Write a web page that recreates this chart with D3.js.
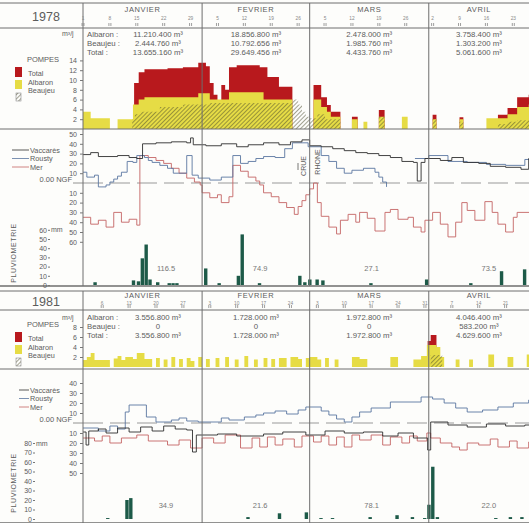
<!DOCTYPE html>
<html>
<head>
<meta charset="utf-8">
<script src="https://cdn.jsdelivr.net/npm/d3@7"></script>
<style>
  body { margin: 0; background: #fff; }
  svg { display: block; font-family: "Liberation Sans", Arial, sans-serif; }
</style>
</head>
<body>
<svg id="chart" width="529" height="523"></svg>
<script>
// ---- data ----
const years = ["1978", "1981"];
const months = ["JANVIER", "FEVRIER", "MARS", "AVRIL"];
const monthStart = [0, 31, 59, 90, 120];   // day index of each month start

const dayTicks78 = [[1, 8, 15, 22, 29], [5, 12, 19, 26], [5, 12, 19, 26], [2, 9, 16, 23]];
const dayTicks81 = [[6, 13, 20, 27], [3, 10, 17, 24], [3, 10, 17, 24, 31], [7, 14, 21, 28]];

// monthly pumped volumes (text)
const albaron78 = ["11.210.400 m³", "18.856.800 m³", "2.478.000 m³", "3.758.400 m³"];
const beaujeu78 = ["2.444.760 m³", "10.792.656 m³", "1.985.760 m³", "1.303.200 m³"];
const total78   = ["13.655.160 m³", "29.649.456 m³", "4.433.760 m³", "5.061.600 m³"];
const albaron81 = ["3.556.800 m³", "1.728.000 m³", "1.972.800 m³", "4.046.400 m³"];
const beaujeu81 = ["0", "0", "0", "583.200 m³"];
const total81   = ["3.556.800 m³", "1.728.000 m³", "1.972.800 m³", "4.629.600 m³"];

// monthly rainfall totals (mm)
const rainTotal78 = ["116.5", "74.9", "27.1", "73.5"];
const rainTotal81 = ["34.9", "21.6", "78.1", "22.0"];

// pumping rates, [day, value] step breakpoints
const totalPump78 = [[0,0],[13.3,9.4],[14.5,11.6],[16,12.2],[22,12.4],[26,12.6],[30,13.5],[32,12.8],[33,9.4],[34,7],[35,5.3],[36,9],[37,8],[38,12.6],[40,13],[46,12.6],[48,10.6],[51,8.6],[54.5,0],[60,9],[62,6.5],[63.5,4.9],[64.5,3.5],[67,0],[70,2.5],[71.5,0],[77,3.9],[78.5,0],[91,2.9],[92,0],[98,2.4],[99,0],[108,2.9],[110.5,4.3],[113,6.5],[116,7],[121,7]];
const albaronPump78 = [[0,3.5],[2,2.2],[7,0],[9,2],[13,5],[14.5,6],[16,6.5],[30,7.3],[33,6],[38,7.5],[47,6],[54.5,0],[60,6],[62,4.5],[63.5,3.5],[64.5,2.5],[67,0],[70,2],[71.5,0],[73,1.5],[74,0],[77,2.5],[78.5,0],[83,2.5],[84.5,0],[91,2],[92,0],[98,2],[99,0],[105,2.2],[110.5,3],[113,4.5],[116,5],[121,5]];
const beaujeuPump78 = [[0,0],[12.8,2],[13.5,3],[15,3.5],[20,4.5],[26,5],[33,5.3],[47,5.3],[54.5,6],[56,5],[57,3.5],[58,2.5],[59,2.2],[61,3],[63,2],[66,2],[67,0],[77,2.5],[78.5,0],[91,2],[92,0],[98,1.5],[99,0],[108,1],[110.5,1.5],[113,1.8],[121,1.8]];

const totalPump81 = [[0,0],[89.7,5.2],[90.5,6.4],[92,0],[121,0]];
const albaronPump81 = [[0,1.4],[1,2],[2,2.8],[3,1.4],[7,0],[8,1.7],[9,2.2],[10,1.4],[11,2],[13,1.6],[14,2.8],[16,1.6],[18,0],[19,1.8],[20,0],[21,1.5],[22,0],[23,2],[24,0],[25,1.6],[26,0],[27,1.8],[28,1.2],[29,0],[30,2],[31,0],[32,1.6],[33,0],[34.5,1.8],[35.5,0],[37,2],[38,0],[39.5,1.5],[40.5,0],[42,2.2],[43,0],[44.5,1.5],[45.5,0],[47,1.8],[48,0],[49,1.6],[50,0],[51,1.8],[53,0],[54,2],[56,1.6],[57,0],[58,1.8],[59,2],[61,1.5],[62,0],[63,1.8],[64,0],[65.5,1.5],[66.5,0],[70,2],[72,1.6],[74,0],[80,2],[82,0],[86,1.5],[88,2.2],[89.5,4.4],[92,4],[93,2],[94,0],[97,1.5],[98,0],[100.5,1.5],[101.5,0],[105.5,2.5],[107,0],[110.5,2],[112,0],[115.5,2.5],[117,1.5],[121,1.5]];
const beaujeuPump81 = [[0,0],[90.5,2.4],[93.5,0],[121,0]];

// water levels (cm NGF), [day, value] step breakpoints
const vaccares78 = [[0,29],[2,31],[4,27],[9,28],[12,26],[14,25],[15.5,40],[19,41],[23,42],[27,41],[28,46],[28.7,39],[32,38],[36,40],[40,37],[43,39],[47,41],[51,39],[54,42],[57,44],[59,38],[62,37],[65,35],[68,33],[71,31],[74,30],[77,28],[80,26],[83,22],[86,21],[87,2],[88,21],[89,25],[93,23],[96,26],[99,21],[103,20],[106,17],[110,16],[114,14],[116,25],[118,22],[121,22]];
const rousty78 = [[0,11],[1,6],[3,8],[4,-4],[6,-2],[7,1],[8,4],[9,7],[10,11],[11.5,22],[13,21],[14,28],[16,26],[17,23],[18,21],[20,18],[22,15],[23.5,10],[27,28],[28.4,8],[30,5],[33,3],[36,6],[39,28],[41,20],[43,22],[45,25],[47,27],[50,26],[52.5,35],[54.5,41],[58.6,37],[62,28],[64,22],[66,15],[68,10],[70,13],[73,15],[76,11],[77,6],[78,1],[79,-4],[79.5,null],[86.4,25],[90,28],[95,22],[100,21],[105,19],[110,18],[115,24],[118,22],[121,22]];
const mer78 = [[0,-35],[2,-42],[4,-38],[6,-45],[8,-30],[10,-40],[12,-37],[14,-43],[14.8,28],[17,26],[19,23],[21,20],[23,15],[25,10],[27,5],[29,1],[30.5,-2],[31,-10],[33,-15],[35,-12],[36,-20],[38,-14],[39,18],[41,12],[43,6],[45,2],[46,-2],[47,-10],[49,-14],[51,-20],[53,-25],[55,-32],[56,-24],[57,-18],[58,-12],[59,-6],[60,0],[61,-20],[62,-34],[64,-45],[66,-52],[67,-38],[69,-32],[71,-40],[72,-30],[74,-36],[76,-49],[78.6,-30],[80,-27],[82,-37],[84.6,-35],[86,-45],[88,-50],[89,-38],[91,-30],[93,-42],[95,-55],[97,-40],[98.6,-20],[100,-28],[102,-38],[104.6,-19],[106.5,-30],[108,-42],[110,-50],[112,-35],[113,-30],[121,-30]];

const vaccares81 = [[0,-9],[0.8,-22],[1.5,-8],[4,-6],[6,-10],[9,-5],[12,-9],[15,-4],[18,-8],[21,-3],[24,-6],[27,-7],[28.5,-29],[29.5,-12],[35,-11],[40,-13],[47,-11],[52,-9],[58,-12],[63,-8],[68,-10],[73,-9],[78,-13],[82,-10],[86,-15],[89.7,-27],[90.5,1],[95,-2],[100,-4],[105,-1],[110,-3],[115,-2],[121,-2]];
const rousty81 = [[0,-5],[4,-8],[7,-3],[9,-6],[11,11],[12,18],[16.5,6],[19,1],[23,3],[25,5],[27,2],[30,1],[36,5],[38,3],[42,6],[45,8],[47,10],[50,12],[53,9],[56,13],[58,16],[62,12],[64,8],[66,4],[68,1],[70,6],[72,11],[75,15],[80,21],[88,26],[91,24],[94,20],[97,15],[100,11],[104,13],[108,16],[112,20],[116,23],[121,23]];
const mer81 = [[0,-15],[3,-18],[5,-13],[7,-20],[10,-15],[14,-12],[17,-18],[22,-22],[25,-17],[28,-25],[31,-15],[34,-20],[37,-12],[41,-25],[44,-15],[46,-24],[48,-14],[50,-22],[52,-16],[55,-24],[57,-13],[60,-19],[62,-13],[64,-22],[66,-14],[68,-24],[70,-12],[72,-17],[75,-12],[78,-22],[80,-14],[83,-20],[85,-13],[87,-18],[89.5,-10],[90.5,-15],[93,-20],[96,-24],[98,-27],[100,-20],[103,-22],[106,-16],[108,-24],[111,-18],[113,-25],[116,-19],[121,-19]];

// daily rainfall (mm), [day, mm]
const rain78 = [[2.7,3],[12.7,5],[14,4],[15,29],[16,44],[17,6],[19,3],[22,2],[23,2],[24,2],[31.5,18],[35,2],[40,10],[41,55],[45.5,2],[56,10],[57.3,3],[58.6,6],[60.5,6],[62,5],[74.5,2],[89,6],[100.5,2],[108.5,15],[114.5,17]];
const rain81 = [[6,1],[11,20],[12,22],[42.5,2],[50.7,6],[57.7,7],[61.5,1],[64.5,1],[74.3,2],[81.3,4],[85.3,2],[88.5,1],[89.6,15],[90.6,55],[91.8,2],[107,1],[110.8,2],[113.8,2]];

// ---- drawing ----
const RED = "#b8191d", YEL = "#e6dc45", GREEN = "#1d5a48";
const C_VAC = "#2e2e2e", C_ROU = "#5a76a0", C_MER = "#c46464";
const INK = "#5c5c5c", RULE = "#6e6e6e";

const svg = d3.select("#chart");
const x = d3.scaleLinear().domain([0, 120]).range([83, 83 + 120 * 3.842]);

const defs = svg.append("defs");
const pat = defs.append("pattern").attr("id", "hatch")
  .attr("patternUnits", "userSpaceOnUse").attr("width", 3).attr("height", 3)
  .attr("patternTransform", "rotate(45)");
pat.append("line").attr("x1", 0).attr("y1", 0).attr("x2", 0).attr("y2", 3)
  .attr("stroke", "#4a4a2c").attr("stroke-width", 1);

svg.append("rect").attr("width", 529).attr("height", 523).attr("fill", "#fdfdfb");

const panels = [
  {year: years[0], ticks: dayTicks78, alb: albaron78, bea: beaujeu78, tot: total78,
   totP: totalPump78, albP: albaronPump78, beaP: beaujeuPump78,
   vac: vaccares78, rou: rousty78, mer: mer78, rain: rain78, rainTot: rainTotal78,
   L: {top: 3, head: 28, pumpBot: 129, bottom: 286, yearY: 21, monthY: 12, tickY: 20,
       textY: 37, pumpZero: 129, pumpK: 4.9, pumpMax: 14,
       lvlZero: 183, lvlK: 0.98, lvlTicks: [50,40,30,20,10,-10,-20,-30,-40,-50,-60],
       rainZero: 285, rainK: 0.92, rainMax: 60, rainAxisX: 50, rainTotY: 271,
       legY: 62, levLegY: 150, levLegX: 12, pluvY: 253, crue: true}},
  {year: years[1], ticks: dayTicks81, alb: albaron81, bea: beaujeu81, tot: total81,
   totP: totalPump81, albP: albaronPump81, beaP: beaujeuPump81,
   vac: vaccares81, rou: rousty81, mer: mer81, rain: rain81, rainTot: rainTotal81,
   L: {top: 291, head: 310, pumpBot: 369, bottom: 523, yearY: 306, monthY: 298, tickY: 305,
       textY: 320, pumpZero: 367, pumpK: 5, pumpMax: 8,
       lvlZero: 423, lvlK: 1.0, lvlTicks: [40,30,20,10,-10,-20,-30,-40,-50],
       rainZero: 519, rainK: 0.95, rainMax: 80, rainAxisX: 35, rainTotY: 508,
       legY: 327, levLegY: 390, levLegX: 19, pluvY: 483, crue: false}}
];

function drawPanel(P) {
  const L = P.L;
  const g = svg.append("g");
  const yP = d3.scaleLinear().domain([0, L.pumpMax]).range([L.pumpZero, L.pumpZero - L.pumpMax * L.pumpK]);
  const yL = d3.scaleLinear().domain([0, 10]).range([L.lvlZero, L.lvlZero - 10 * L.lvlK]);
  const yR = d3.scaleLinear().domain([0, 10]).range([L.rainZero, L.rainZero - 10 * L.rainK]);

  // pumping areas: total, albaron, beaujeu (hatched)
  const area = d3.area().curve(d3.curveStepAfter)
    .x(d => x(d[0])).y0(yP(0)).y1(d => yP(d[1]));
  g.append("path").attr("d", area(P.totP)).attr("fill", RED);
  g.append("path").attr("d", area(P.albP)).attr("fill", YEL);
  g.append("path").attr("d", area(P.beaP)).attr("fill", "url(#hatch)");

  // rainfall bars
  g.append("g").selectAll("rect").data(P.rain).join("rect")
    .attr("x", d => x(d[0])).attr("width", 3.4)
    .attr("y", d => yR(d[1])).attr("height", d => yR(0) - yR(d[1]))
    .attr("fill", GREEN);

  // zero NGF line
  g.append("line").attr("x1", 73).attr("x2", 83).attr("y1", yL(0)).attr("y2", yL(0))
    .attr("stroke", "#777").attr("stroke-width", 0.8);
  g.append("line").attr("x1", 83).attr("x2", 529).attr("y1", yL(0)).attr("y2", yL(0))
    .attr("stroke", "#999").attr("stroke-width", 1).attr("stroke-dasharray", "20,7");
  g.append("text").attr("x", 72).attr("y", yL(0) - 1).attr("text-anchor", "end")
    .attr("font-size", 7.5).attr("fill", INK).text("0.00 NGF");

  // level lines
  const line = d3.line().curve(d3.curveStepAfter).defined(d => d[1] !== null)
    .x(d => x(d[0])).y(d => yL(d[1]));
  [[P.mer, C_MER], [P.rou, C_ROU], [P.vac, C_VAC]].forEach(([s, c]) => {
    g.append("path").attr("d", line(s)).attr("fill", "none")
      .attr("stroke", c).attr("stroke-width", 0.9);
  });

  // frame
  [L.top, L.head, L.pumpBot, L.bottom].forEach(yy => {
    g.append("line").attr("x1", 0).attr("x2", 529).attr("y1", yy).attr("y2", yy)
      .attr("stroke", RULE).attr("stroke-width", yy === L.bottom ? 1.6 : 1);
  });
  monthStart.slice(0, 4).forEach(d => {
    g.append("line").attr("x1", x(d)).attr("x2", x(d)).attr("y1", L.top).attr("y2", L.bottom)
      .attr("stroke", RULE).attr("stroke-width", 1);
  });

  // header
  g.append("text").attr("x", 46).attr("y", L.yearY).attr("text-anchor", "middle")
    .attr("font-size", 12.5).attr("fill", INK).text(P.year);
  months.forEach((m, i) => {
    const a = x(monthStart[i]), b = Math.min(x(monthStart[i + 1]), 529);
    g.append("text").attr("x", (a + b) / 2).attr("y", L.monthY).attr("text-anchor", "middle")
      .attr("font-size", 7.5).attr("letter-spacing", 0.6).attr("fill", INK).text(m);
    P.ticks[i].forEach(t => {
      const xx = x(monthStart[i] + t - 1);
      if (xx > 529) return;
      g.append("text").attr("x", xx).attr("y", L.tickY).attr("text-anchor", "middle")
        .attr("font-size", 4.8).attr("fill", "#888").text(t);
      [-1, 1].forEach(o => g.append("line").attr("x1", xx + o).attr("x2", xx + o)
        .attr("y1", L.head - 5).attr("y2", L.head - 2).attr("stroke", "#777").attr("stroke-width", 0.7));
    });
    // pumped volume texts
    const cx = i === 0 ? 158 : (a + b) / 2;
    [P.alb[i], P.bea[i], P.tot[i]].forEach((t, k) => {
      g.append("text").attr("x", cx).attr("y", L.textY + k * 9).attr("text-anchor", "middle")
        .attr("font-size", 7.8).attr("fill", INK).text(t);
    });
    // rainfall monthly totals
    const rx = [x(monthStart[i]) + 83, x(monthStart[i]) + 58, x(monthStart[i]) + 62, x(monthStart[i]) + 60][i];
    g.append("text").attr("x", rx).attr("y", L.rainTotY).attr("text-anchor", "middle")
      .attr("font-size", 7.5).attr("fill", "#777").text(P.rainTot[i]);
  });
  ["Albaron :", "Beaujeu :", "Total :"].forEach((t, k) => {
    g.append("text").attr("x", 87).attr("y", L.textY + k * 9).attr("font-size", 7.8)
      .attr("fill", INK).text(t);
  });

  // pump axis
  const pAxis = g.append("g").attr("transform", "translate(83,0)")
    .call(d3.axisLeft(yP).tickValues(d3.range(2, L.pumpMax + 1, 2)).tickSize(3).tickFormat(d3.format("d")));
  // level axis
  const lAxis = g.append("g").attr("transform", "translate(83,0)")
    .call(d3.axisLeft(yL).tickValues(L.lvlTicks).tickSize(3).tickFormat(d => Math.abs(d)));
  // rain axis
  const rAxis = g.append("g").attr("transform", `translate(${L.rainAxisX},0)`)
    .call(d3.axisLeft(yR).tickValues(d3.range(0, L.rainMax + 1, 10)).tickSize(2).tickPadding(1));
  [pAxis, lAxis, rAxis].forEach(ax => {
    ax.select(".domain").remove();
    ax.selectAll("text").attr("font-size", 7).attr("fill", INK).attr("font-family", "Liberation Sans, Arial");
    ax.selectAll("line").attr("stroke", "#777");
  });
  g.append("text").attr("x", L.rainAxisX + 1).attr("y", yR(L.rainMax) + 2.5)
    .attr("font-size", 7).attr("fill", INK).text("mm");
  g.append("text").attr("x", 62).attr("y", L.pumpBot === 129 ? 36 : 320)
    .attr("font-size", 7).attr("fill", INK).text("m³/j");

  // pump legend
  g.append("text").attr("x", 27).attr("y", L.legY).attr("font-size", 7.5).attr("fill", INK).text("POMPES");
  g.append("rect").attr("x", 15).attr("y", L.legY + 5).attr("width", 7).attr("height", 10).attr("fill", RED);
  g.append("rect").attr("x", 15).attr("y", L.legY + 18).attr("width", 7).attr("height", 9).attr("fill", YEL);
  g.append("rect").attr("x", 16).attr("y", L.legY + 31).attr("width", 5).attr("height", 8)
    .attr("fill", "url(#hatch)").attr("stroke", "#777").attr("stroke-width", 0.5);
  ["Total", "Albaron", "Beaujeu"].forEach((t, k) => {
    g.append("text").attr("x", 28).attr("y", L.legY + 14 + k * 8.5).attr("font-size", 7.3)
      .attr("fill", INK).text(t);
  });

  // level legend
  [["Vaccarès", C_VAC], ["Rousty", C_ROU], ["Mer", C_MER]].forEach(([t, c], k) => {
    const yy = L.levLegY + k * 8.5;
    g.append("line").attr("x1", L.levLegX).attr("x2", 29).attr("y1", yy).attr("y2", yy)
      .attr("stroke", c).attr("stroke-width", 0.8);
    g.append("text").attr("x", 30).attr("y", yy + 2.5).attr("font-size", 7.3).attr("fill", INK).text(t);
  });

  // pluviometrie vertical label
  g.append("text").attr("transform", `translate(16,${L.pluvY}) rotate(-90)`)
    .attr("text-anchor", "middle").attr("font-size", 7).attr("letter-spacing", 0.6)
    .attr("fill", INK).text("PLUVIOMETRIE");

  if (L.crue) {
    g.append("line").attr("x1", 298).attr("x2", 298).attr("y1", 163).attr("y2", 170)
      .attr("stroke", "#555").attr("stroke-width", 0.8);
    g.append("text").attr("transform", "translate(306,166) rotate(-90)")
      .attr("text-anchor", "middle").attr("font-size", 7).attr("fill", INK).text("CRUE");
    g.append("text").attr("transform", "translate(320,162) rotate(-90)")
      .attr("text-anchor", "middle").attr("font-size", 7).attr("fill", INK).text("RHONE");
  }
}

panels.forEach(drawPanel);
</script>
</body>
</html>
